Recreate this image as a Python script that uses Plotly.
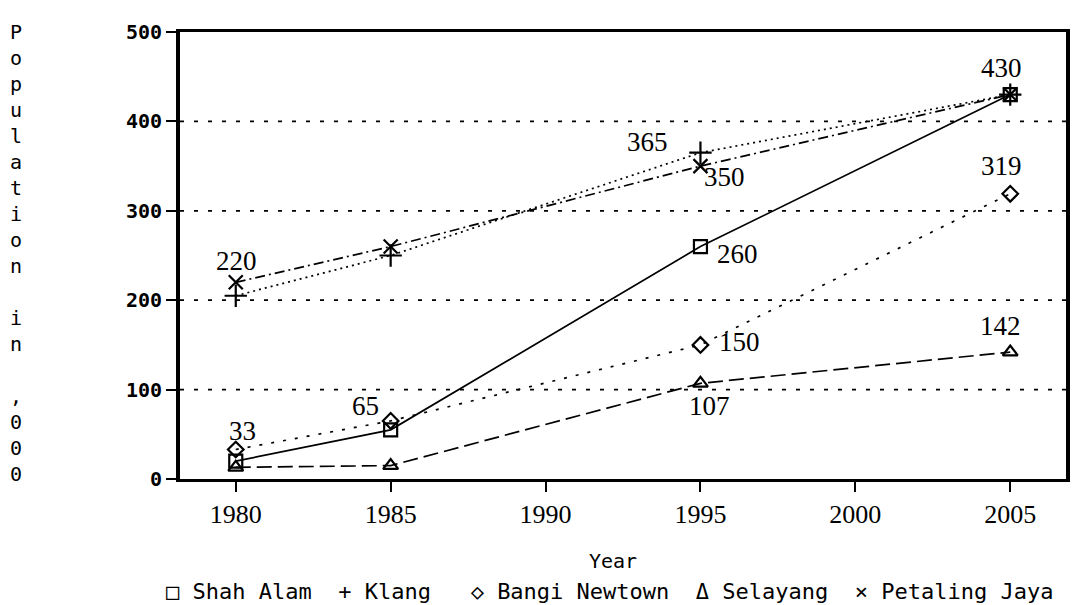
import plotly.graph_objects as go

years = [1980, 1985, 1995, 2005]
shah_alam = [20, 55, 260, 430]
klang = [205, 250, 365, 430]
bangi = [33, 65, 150, 319]
selayang = [13, 15, 107, 142]
petaling = [220, 260, 350, 430]

series_names = ["Shah Alam", "Klang", "Bangi Newtown", "Selayang", "Petaling Jaya"]
y_ticks = [0, 100, 200, 300, 400, 500]
x_ticks = [1980, 1985, 1990, 1995, 2000, 2005]

# value labels: (series, year index, value, xshift, yshift)
labels = [
    (petaling, 0, 220, 1, 21),
    (bangi, 0, 33, 7, 19),
    (bangi, 1, 65, -25, 15),
    (klang, 2, 365, -53, 11),
    (petaling, 2, 350, 24, -11),
    (shah_alam, 2, 260, 37, -7),
    (bangi, 2, 150, 39, 3),
    (selayang, 2, 107, 9, -23),
    (shah_alam, 3, 430, -9, 27),
    (bangi, 3, 319, -9, 28),
    (selayang, 3, 142, -10, 26),
]

styles = [
    (shah_alam, "square-open", "solid", 13),
    (klang, "cross-thin-open", "2px,4px", 16),
    (bangi, "diamond-open", "3px,9px", 12),
    (selayang, "triangle-up-open", "15px,6px", 13),
    (petaling, "x-thin-open", "10px,4px,2px,4px", 14),
]

fig = go.Figure()
for (vals, sym, dash, msize), name in zip(styles, series_names):
    fig.add_trace(go.Scatter(
        x=years, y=vals, name=name, mode="lines+markers",
        line=dict(color="black", width=1.7, dash=dash),
        marker=dict(symbol=sym, size=msize, color="black",
                    line=dict(color="black", width=2.2)),
        showlegend=False,
    ))

serif = "Liberation Serif"
mono = "DejaVu Sans Mono"

for vals, i, v, dx, dy in labels:
    fig.add_annotation(x=years[i], y=vals[i], xref="x", yref="y", text=str(v),
                       showarrow=False, xshift=dx, yshift=dy,
                       font=dict(family=serif, size=27, color="black"))

ytitle = "<br>".join(list("Population") + [" "] + list("in") + [" "] + list(",000"))
fig.add_annotation(x=-0.185, y=0.505, xref="paper", yref="paper", text=ytitle,
                   showarrow=False, xanchor="center", yanchor="middle",
                   font=dict(family=mono, size=20, color="black"))

fig.add_annotation(x=0.489, y=-0.183, xref="paper", yref="paper", text="Year",
                   showarrow=False, xanchor="center", yanchor="middle",
                   font=dict(family=mono, size=20, color="black"))

legend_text = "□ Shah Alam  + Klang   ◇ Bangi Newtown  Δ Selayang  × Petaling Jaya"
fig.add_annotation(x=-0.018, y=-0.252, xref="paper", yref="paper", text=legend_text,
                   showarrow=False, xanchor="left", yanchor="middle",
                   font=dict(family=mono, size=22, color="black"))

fig.update_layout(
    width=1079, height=605,
    margin=dict(l=172, r=21, t=22, b=134),
    paper_bgcolor="white", plot_bgcolor="white",
    showlegend=False,
)
fig.update_xaxes(
    range=[1978.2, 2006.8], tickvals=x_ticks, ticktext=[str(t) for t in x_ticks],
    showline=True, linecolor="black", linewidth=3, mirror=True,
    ticks="outside", ticklen=10, tickwidth=2, tickcolor="black",
    showgrid=False, zeroline=False,
    tickfont=dict(family=serif, size=26, color="black"),
)
fig.update_yaxes(
    range=[0, 500], tickvals=y_ticks, ticktext=[str(t) for t in y_ticks],
    showline=True, linecolor="black", linewidth=4, mirror=True,
    ticks="outside", ticklen=10, tickwidth=2, tickcolor="black",
    showgrid=False, zeroline=False,
    tickfont=dict(family=mono, size=20, color="black", weight="bold"),
)
for g in [100, 200, 300, 400]:
    fig.add_shape(type="line", xref="paper", x0=0, x1=1, yref="y", y0=g, y1=g,
                  line=dict(color="black", width=1.7, dash="4px,10px"), layer="below")

fig.write_html("out.html")
